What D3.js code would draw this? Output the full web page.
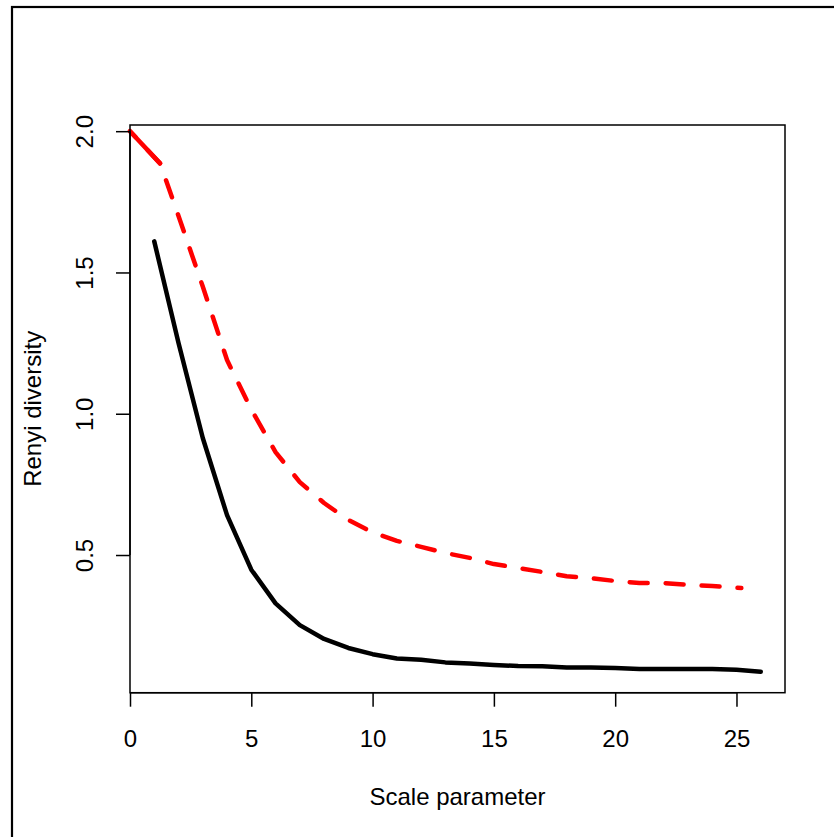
<!DOCTYPE html>
<html>
<head>
<meta charset="utf-8">
<script src="https://cdn.jsdelivr.net/npm/d3@7"></script>
<style>
  html, body { margin: 0; padding: 0; background: #fff; }
  svg { display: block; }
  text { font-family: "Liberation Sans", Arial, sans-serif; }
</style>
</head>
<body>
<svg id="chart" width="834" height="837"></svg>
<script>
// ---- data ----
const blackX = [1,2,3,4,5,6,7,8,9,10,11,12,13,14,15,16,17,18,19,20,21,22,23,24,25,26];
const blackY = [1.61,1.25,0.914,0.641,0.448,0.329,0.252,0.203,0.171,0.149,0.134,0.129,0.120,0.116,0.111,0.107,0.106,0.102,0.102,0.100,0.097,0.097,0.097,0.097,0.094,0.087];
const redX = [0,1.24,2,3,4,5,6,7,8,9,10,11,12,13,14,15,16,17,18,19,20,21,22,23,24,25.2];
const redY = [2.0,1.886,1.70,1.45,1.19,1.015,0.864,0.758,0.684,0.624,0.580,0.550,0.529,0.507,0.490,0.468,0.454,0.440,0.425,0.418,0.408,0.401,0.401,0.394,0.390,0.383];
const xTicks = [0,5,10,15,20,25];
const yTicks = [0.5,1.0,1.5,2.0];
const yTickLabels = ["0.5","1.0","1.5","2.0"];
const xTitle = "Scale parameter";
const yTitle = "Renyi diversity";

const svg = d3.select("#chart");
const L = 130, R = 785, T = 125, B = 692.7;
const x = d3.scaleLinear().domain([0, 27]).range([L, R]);
const y = d3.scaleLinear().domain([0.0127, 2.0219]).range([B, T]);

// outer frame (extends beyond the window on right/bottom)
svg.append("rect").attr("x", 12).attr("y", 7).attr("width", 900).attr("height", 900)
  .attr("fill", "none").attr("stroke", "#000").attr("stroke-width", 2.2);

// lines
const line = d3.line().x(d => x(d[0])).y(d => y(d[1]));
const blackData = blackX.map((v, i) => [v, blackY[i]]);
const redData = redX.map((v, i) => [v, redY[i]]);

svg.append("path").datum(blackData).attr("d", line)
  .attr("fill", "none").attr("stroke", "#000").attr("stroke-width", 4.5)
  .attr("stroke-linecap", "round").attr("stroke-linejoin", "round");

svg.append("path").datum(redData).attr("d", line)
  .attr("fill", "none").attr("stroke", "#ff0000").attr("stroke-width", 4.5)
  .attr("stroke-dasharray", "18,18").attr("stroke-dashoffset", 10)
  .attr("stroke-linecap", "round").attr("stroke-linejoin", "round");
// first segment drawn solid
svg.append("path").datum(redData.slice(0, 2)).attr("d", line)
  .attr("fill", "none").attr("stroke", "#ff0000").attr("stroke-width", 4.5)
  .attr("stroke-linecap", "round");

// plot box
svg.append("rect").attr("x", L).attr("y", T).attr("width", R - L).attr("height", B - T)
  .attr("fill", "none").attr("stroke", "#000").attr("stroke-width", 1.5);

// x axis
const xAxis = d3.axisBottom(x).tickValues(xTicks).tickSize(14).tickPadding(0).tickFormat(d3.format("d"));
const gx = svg.append("g").attr("transform", `translate(0,${B})`).call(xAxis);
gx.select(".domain").attr("d", `M${x(xTicks[0])},0H${x(xTicks[xTicks.length-1])}`).attr("stroke-width", 1.5);
gx.selectAll(".tick line").attr("stroke-width", 1.5);
gx.selectAll(".tick text").attr("font-size", 24).attr("fill", "#000")
  .attr("font-family", "Liberation Sans, Arial, sans-serif")
  .attr("dy", null).attr("y", 746.7 - B);

// y axis
const yAxis = d3.axisLeft(y).tickValues(yTicks).tickSize(14).tickPadding(0)
  .tickFormat((d, i) => yTickLabels[i]);
const gy = svg.append("g").attr("transform", `translate(${L},0)`).call(yAxis);
gy.select(".domain").attr("d", `M0,${y(yTicks[0])}V${y(yTicks[yTicks.length-1])}`).attr("stroke-width", 1.5);
gy.selectAll(".tick line").attr("stroke-width", 1.5);
gy.selectAll(".tick text").attr("font-size", 24).attr("fill", "#000")
  .attr("font-family", "Liberation Sans, Arial, sans-serif")
  .attr("x", null).attr("dy", null)
  .attr("text-anchor", "middle")
  .attr("transform", `translate(${93 - L},0) rotate(-90)`);

// titles
svg.append("text").attr("x", (L + R) / 2).attr("y", 805).attr("text-anchor", "middle")
  .attr("font-size", 24).attr("fill", "#000").text(xTitle);
svg.append("text").attr("transform", `translate(41,${(T + B) / 2}) rotate(-90)`)
  .attr("text-anchor", "middle").attr("font-size", 24).attr("fill", "#000").text(yTitle);
</script>
</body>
</html>
